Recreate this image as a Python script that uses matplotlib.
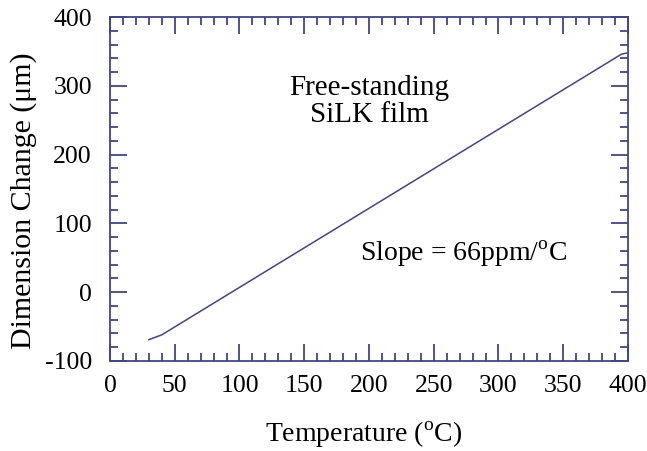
import matplotlib
matplotlib.use("Agg")
import matplotlib.pyplot as plt
from matplotlib.ticker import MultipleLocator

plt.rcParams["font.family"] = ["Liberation Serif", "DejaVu Serif"]
plt.rcParams["mathtext.fontset"] = "custom"
plt.rcParams["mathtext.rm"] = "Liberation Serif"
plt.rcParams["axes.unicode_minus"] = False

# measured dimension change vs temperature
temperature = [30, 40, 395, 400]
dimension_change = [-69, -62, 346, 348]

blue = "#3f4494"

fig = plt.figure(figsize=(6.47, 4.51), dpi=100)
ax = fig.add_axes([0.170, 0.1996, 0.8006, 0.7627])

ax.plot(temperature, dimension_change, color=blue, linewidth=1.1)

ax.set_xlim(0, 400)
ax.set_ylim(-100, 400)
ax.xaxis.set_major_locator(MultipleLocator(50))
ax.xaxis.set_minor_locator(MultipleLocator(10))
ax.yaxis.set_major_locator(MultipleLocator(100))
ax.yaxis.set_minor_locator(MultipleLocator(20))

for s in ax.spines.values():
    s.set_color(blue)
    s.set_linewidth(1.3)

ax.tick_params(which="both", direction="in", top=True, right=True,
               color=blue, width=1.3, labelsize=18.5)
ax.tick_params(which="major", length=12)
ax.tick_params(which="minor", length=6)
ax.tick_params(axis="x", which="major", pad=10)
ax.tick_params(axis="y", which="major", pad=13)

ax.set_xlabel(r"Temperature ($^{\rm o}$C)", fontsize=20)
ax.set_ylabel("Dimension Change (μm)", fontsize=21.5)
ax.xaxis.set_label_coords(0.49, -0.172)
ax.yaxis.set_label_coords(-0.141, 0.465)

ax.text(200, 277, "Free-standing\nSiLK film", ha="center", va="center",
        fontsize=21, linespacing=1.02)
ax.text(193, 55, r"Slope = 66ppm/$^{\rm o}$C", ha="left", va="center",
        fontsize=20)

fig.savefig("out.png", dpi=100)
